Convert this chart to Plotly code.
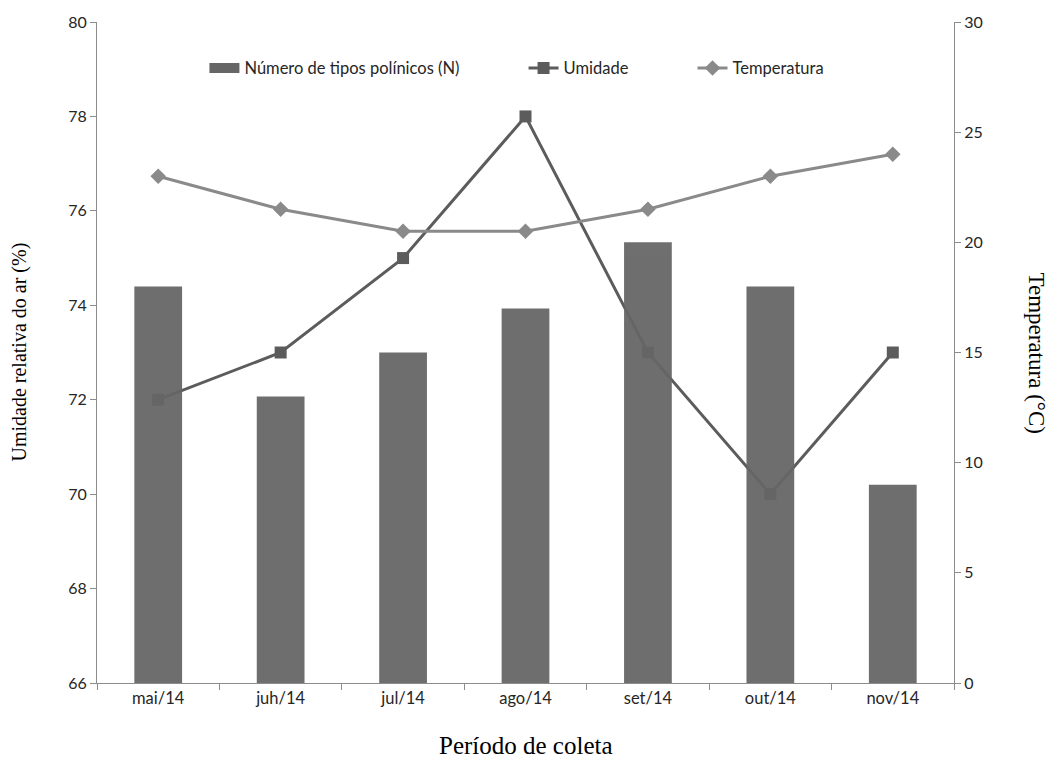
import plotly.graph_objects as go

meses = ["mai/14", "juh/14", "jul/14", "ago/14", "set/14", "out/14", "nov/14"]
tipos_polinicos = [18, 13, 15, 17, 20, 18, 9]
umidade = [72, 73, 75, 78, 73, 70, 73]
temperatura = [23, 21.5, 20.5, 20.5, 21.5, 23, 24]

sans = "Lato"
serif = "Liberation Serif, Times New Roman, DejaVu Serif, serif"
axis_col = "#8c8c8c"
txt_col = "#262626"
bar_col = "#666666"
gap = "\u00a0" * 14  # extra room between legend entries

fig = go.Figure()

# humidity on the left axis (drawn underneath the bars)
fig.add_trace(go.Scatter(
    x=meses, y=umidade, name="Umidade" + gap, yaxis="y",
    mode="lines+markers",
    line=dict(color="#5c5c5c", width=3),
    marker=dict(symbol="square", size=12, color="#5c5c5c"),
    legendrank=2,
))

# pollen types as bars on the right axis
fig.add_trace(go.Bar(
    x=meses, y=tipos_polinicos, name="Número de tipos polínicos (N)", yaxis="y2",
    marker=dict(color=bar_col, line=dict(width=0)), opacity=0.94,
    showlegend=False,
))

# wide swatch for the bar series in the legend
fig.add_trace(go.Scatter(
    x=[None], y=[None], name="Número de tipos polínicos (N)" + gap, yaxis="y2",
    mode="lines", line=dict(color=bar_col, width=10),
    legendrank=1,
))

# temperature on the right axis
fig.add_trace(go.Scatter(
    x=meses, y=temperatura, name="Temperatura", yaxis="y2",
    mode="lines+markers",
    line=dict(color="#8a8a8a", width=3),
    marker=dict(symbol="diamond", size=12, color="#8a8a8a"),
    legendrank=3,
))

fig.update_layout(
    width=1048, height=764,
    margin=dict(l=97, r=94, t=20, b=81),
    paper_bgcolor="white", plot_bgcolor="white",
    bargap=0.61,
    showlegend=True,
    legend=dict(
        orientation="h", x=0.49, xanchor="center", y=0.93, yanchor="middle",
        font=dict(family=sans, size=16.5, color=txt_col),
        bgcolor="rgba(0,0,0,0)", itemwidth=30, traceorder="normal",
    ),
    xaxis=dict(
        showline=True, linecolor=axis_col, linewidth=1,
        ticks="outside", tickson="boundaries", ticklen=6, tickcolor=axis_col,
        tickfont=dict(family=sans, size=16.5, color=txt_col),
        showgrid=False, zeroline=False,
    ),
    yaxis=dict(
        range=[66, 80], dtick=2, side="left",
        showline=True, linecolor=axis_col, linewidth=1,
        ticks="outside", ticklen=6, tickcolor=axis_col,
        tickfont=dict(family=sans, size=16, color=txt_col),
        showgrid=False, zeroline=False,
    ),
    yaxis2=dict(
        range=[0, 30], dtick=5, side="right", overlaying="y",
        showline=True, linecolor=axis_col, linewidth=1,
        ticks="outside", ticklen=6, tickcolor=axis_col,
        tickfont=dict(family=sans, size=16, color=txt_col),
        showgrid=False, zeroline=False,
    ),
    annotations=[
        dict(text="Umidade relativa do ar (%)", xref="paper", yref="paper",
             x=0, y=0.5, xshift=-78, xanchor="center", yanchor="middle",
             textangle=-90, showarrow=False,
             font=dict(family=serif, size=20, color="#000")),
        dict(text="Temperatura (°C)", xref="paper", yref="paper",
             x=1, y=0.5, xshift=82, xanchor="center", yanchor="middle",
             textangle=90, showarrow=False,
             font=dict(family=serif, size=23, color="#000")),
        dict(text="Período de coleta", xref="paper", yref="paper",
             x=0.5, y=0, yshift=-62, xanchor="center", yanchor="middle",
             showarrow=False,
             font=dict(family=serif, size=25, color="#000")),
    ],
)

fig.write_html("out.html")
